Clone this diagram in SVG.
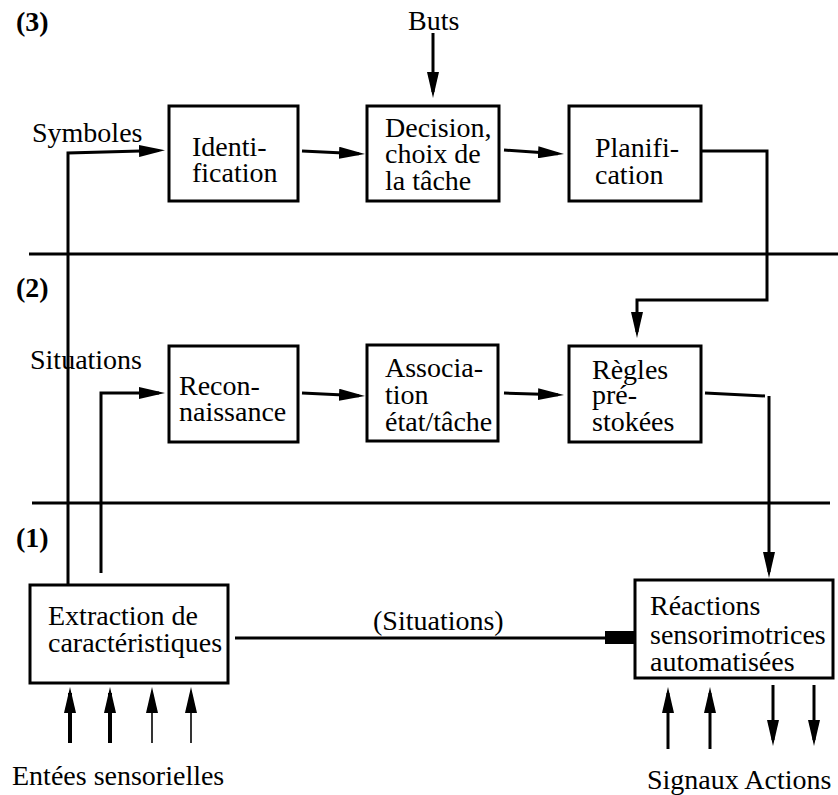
<svg xmlns="http://www.w3.org/2000/svg" width="838" height="795" viewBox="0 0 838 795">
<style>
text{font-family:"Liberation Serif","Times New Roman",serif;font-size:28px;fill:#000}
.b{font-weight:bold}
.box{fill:#fff;stroke:#000;stroke-width:3}
.ln{fill:none;stroke:#000;stroke-width:3}
.thin{fill:none;stroke:#000;stroke-width:1.6}
.thick{fill:none;stroke:#000;stroke-width:4}
.arr{marker-end:url(#ah)}
</style>
<defs>
<marker id="ah" markerUnits="userSpaceOnUse" markerWidth="26" markerHeight="12" viewBox="0 0 26 12" refX="20" refY="6" orient="auto">
<path d="M0,0 L26,6 L0,12 z" fill="#000"/>
</marker>
</defs>
<rect width="838" height="795" fill="#fff"/>
<g id="labels">
<text class="b" x="16" y="31">(3)</text>
<text class="b" x="16" y="297">(2)</text>
<text class="b" x="16" y="547">(1)</text>
<text x="408" y="30">Buts</text>
<text x="32" y="142">Symboles</text>
<text x="30" y="369">Situations</text>
<text x="373" y="630">(Situations)</text>
<text x="12" y="785">Entées sensorielles</text>
<text x="647" y="789">Signaux Actions</text>
</g>
<g id="separators">
<path class="ln" d="M29,254 H838"/>
<path class="ln" d="M32,503 H830"/>
</g>
<g id="connectors">
<path class="ln arr" d="M68,585 V153 L159,150.5"/>
<path class="ln arr" d="M302,151 L359,153.7"/>
<path class="ln arr" d="M504,150 L558,153.7"/>
<path class="ln arr" d="M433,33 V92"/>
<path class="ln arr" d="M702,151 H767 V300 H637 V332"/>
<path class="ln arr" d="M101,573 V393 H159"/>
<path class="ln arr" d="M302,393 L359,395.7"/>
<path class="ln arr" d="M504,393 L558,394.8"/>
<path class="ln" d="M705,393 L765,396"/>
<path class="ln arr" d="M769,396 V572"/>
<path class="ln" d="M235,638 H606"/>
<rect x="605" y="631" width="31" height="13" fill="#000"/>
<path class="thick arr" d="M70,743 V693"/>
<path class="thick arr" d="M110,743 V693"/>
<path class="thin arr" d="M152,743 V693"/>
<path class="thin arr" d="M191,743 V693"/>
<path class="ln arr" d="M668,749 V693"/>
<path class="ln arr" d="M710,749 V693"/>
<path class="ln arr" d="M773,685 V740"/>
<path class="ln arr" d="M814,685 V740"/>
</g>
<g id="identification">
<rect class="box" x="169" y="106" width="129" height="95"/>
<text x="192" y="156">Identi-</text>
<text x="192" y="182">fication</text>
</g>
<g id="decision">
<rect class="box" x="367" y="106" width="132" height="95"/>
<text x="385" y="137">Decision,</text>
<text x="385" y="163">choix de</text>
<text x="385" y="190">la tâche</text>
</g>
<g id="planification">
<rect class="box" x="569" y="106" width="132" height="95"/>
<text x="595" y="157">Planifi-</text>
<text x="595" y="184">cation</text>
</g>
<g id="reconnaissance">
<rect class="box" x="169" y="346" width="129" height="96"/>
<text x="179" y="395">Recon-</text>
<text x="179" y="421">naissance</text>
</g>
<g id="association">
<rect class="box" x="367" y="345" width="131" height="96"/>
<text x="385" y="377">Associa-</text>
<text x="385" y="404">tion</text>
<text x="385" y="431">état/tâche</text>
</g>
<g id="regles">
<rect class="box" x="569" y="346" width="132" height="96"/>
<text x="592" y="379">Règles</text>
<text x="592" y="404">pré-</text>
<text x="592" y="431">stokées</text>
</g>
<g id="extraction">
<rect class="box" x="30" y="585" width="198" height="98"/>
<text x="48" y="625">Extraction de</text>
<text x="48" y="652">caractéristiques</text>
</g>
<g id="reactions">
<rect class="box" x="635" y="580" width="198" height="98"/>
<text x="650" y="615">Réactions</text>
<text x="650" y="644">sensorimotrices</text>
<text x="650" y="671">automatisées</text>
</g>
</svg>
